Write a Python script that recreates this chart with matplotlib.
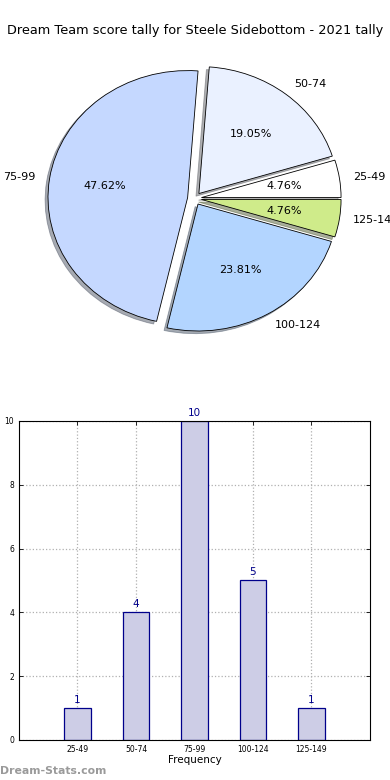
import matplotlib.pyplot as plt

# score ranges and how many games fell in each
ranges = ["25-49", "50-74", "75-99", "100-124", "125-149"]
counts = [1, 4, 10, 5, 1]
pie_colors = ["#ffffff", "#eaf1ff", "#c5d8ff", "#b3d5ff", "#cfeb8a"]
yticks = [0, 2, 4, 6, 8, 10]

fig = plt.figure(figsize=(3.9, 7.8), dpi=100)

# pie (elliptical, like the old unequal-aspect output)
ax1 = fig.add_axes([0.0513, 0.542, 0.895, 0.407])
ax1.pie(counts, labels=ranges, colors=pie_colors, autopct="%.2f%%",
        explode=[0.05] * len(counts),
        shadow={"ox": -0.015, "oy": -0.015, "shade": 0.6}, startangle=0,
        wedgeprops={"edgecolor": "black", "linewidth": 0.6},
        textprops={"fontsize": 8})
ax1.set_aspect("auto")
ax1.set_xlim(-1.25, 1.25)
ax1.set_ylim(-1.25, 1.25)
fig.text(0.5, 0.961, "Dream Team score tally for Steele Sidebottom - 2021 tally",
         ha="center", va="center", fontsize=9.3)

# bar chart
ax2 = fig.add_axes([0.0487, 0.0513, 0.9, 0.409])
pos = list(range(1, len(ranges) + 1))
bars = ax2.bar(pos, counts, width=0.45, color="#cdcde6", edgecolor="#00008b",
               linewidth=0.9, zorder=2)
for b, c in zip(bars, counts):
    ax2.text(b.get_x() + b.get_width() / 2, c + 0.1, str(c), ha="center",
             va="bottom", color="#00008b", fontsize=7.5)
ax2.set_xlim(0, 6)
ax2.set_ylim(0, 10)
ax2.set_xticks(pos)
ax2.set_xticklabels(ranges, fontsize=5.5)
ax2.set_yticks(yticks)
ax2.set_yticklabels([str(t) for t in yticks], fontsize=5.5)
ax2.tick_params(direction="in", top=True, right=True, length=3, width=0.6)
ax2.grid(True, linestyle=":", color="#b0b0b0", linewidth=0.9, zorder=0)
ax2.set_xlabel("Frequency", fontsize=7.5, labelpad=1)
ax2.set_ylabel("Score Range", fontsize=7.5, labelpad=5)
for s in ax2.spines.values():
    s.set_linewidth(0.8)

fig.text(0.0, 0.0115, "Dream-Stats.com", fontsize=7.8, color="#9a9a9a",
         fontweight="bold", ha="left", va="center")

fig.savefig("out.png", dpi=100)
